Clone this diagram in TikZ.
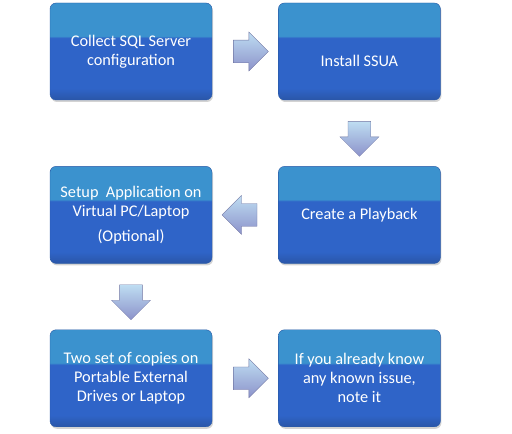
\documentclass[tikz,border=0pt]{standalone}
\usepackage{fontspec}
\setmainfont{Carlito}
\usepackage{tikz}
\usetikzlibrary{positioning,shapes.arrows,shadows,calc}
\definecolor{boxTop}{HTML}{3B92CE}
\definecolor{boxLow}{HTML}{2F64C8}
\definecolor{boxBot}{HTML}{2A56A8}
\definecolor{boxLine}{HTML}{2A5AA6}
\definecolor{arrowTop}{HTML}{BEDDF2}
\definecolor{arrowBot}{HTML}{8C92CA}
\pgfdeclareverticalshading{stepshade}{100bp}{color(0bp)=(boxBot); color(25bp)=(boxBot); color(31bp)=(boxLow); color(57bp)=(boxLow); color(58bp)=(boxTop); color(75bp)=(boxTop); color(100bp)=(boxTop)}

\begin{document}
\begin{tikzpicture}[
  node distance=66pt,
  stepbox/.style={rectangle, rounded corners=6pt, draw=boxLine, shading=stepshade, minimum width=162pt, minimum height=97pt, align=center, text=white, font=\fontsize{16.3}{19}\selectfont, drop shadow={opacity=0.35, shadow xshift=1pt, shadow yshift=-2pt}},
  flowarrow/.style={single arrow, draw=arrowBot!80!black, line width=0.3pt, top color=arrowTop, bottom color=arrowBot, minimum height=35pt, minimum width=39pt, single arrow head extend=8pt, inner sep=11pt}
]
\useasboundingbox (0,0) rectangle (512pt,434pt);
\node[stepbox] (collect) at (131pt,382.5pt) {Collect SQL Server\\configuration};
\node[stepbox, right=of collect] (install) {\raisebox{-15pt}[0pt][0pt]{Install SSUA}};
\node[stepbox, below=of install] (playback) {Create a Playback};
\node[stepbox, left=of playback] (setup) {Setup\ \ Application on\\Virtual PC/Laptop\\[6pt](Optional)};
\node[stepbox, below=of setup] (copies) {Two set of copies on\\Portable External\\Drives or Laptop};
\node[stepbox, right=of copies] (issue) {If you already know\\any known issue,\\note it};
% block arrows between the steps
\node[flowarrow] (a1) at ($(collect)!0.5!(install)$) {};
\node[flowarrow, shape border rotate=270] (a2) at ($(install)!0.5!(playback)$) {};
\node[flowarrow, shape border rotate=180] (a3) at ($(playback)!0.5!(setup)$) {};
\node[flowarrow, shape border rotate=270] (a4) at ($(setup)!0.5!(copies)$) {};
\node[flowarrow] (a5) at ($(copies)!0.5!(issue)$) {};
\end{tikzpicture}
\end{document}
